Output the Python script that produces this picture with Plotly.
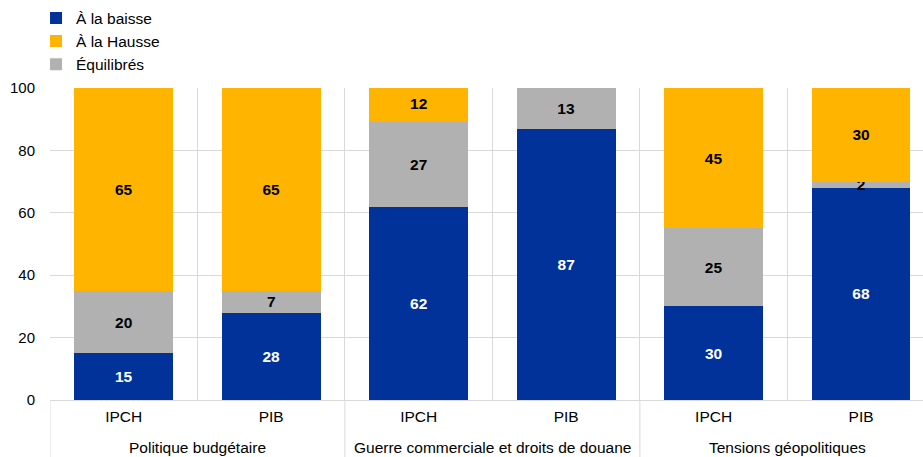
import plotly.graph_objects as go

groups = ["Politique budgétaire", "Guerre commerciale et droits de douane", "Tensions géopolitiques"]
indicators = ["IPCH", "PIB"]

baisse = [15, 28, 62, 87, 30, 68]
equilibres = [20, 7, 27, 13, 25, 2]
hausse = [65, 65, 12, 0, 45, 30]

# category keys: one per (group, indicator) pair
keys = [f"{g} – {i}" for g in groups for i in indicators]
key_labels = [i for g in groups for i in indicators]

FONT = "Liberation Sans, Arial, sans-serif"
GRID = "#D9D9D9"

series = [
    ("À la baisse", baisse, "#003299", "white", 1),
    ("Équilibrés", equilibres, "#B1B1B1", "black", 3),
    ("À la Hausse", hausse, "#FFB400", "black", 2),
]

fig = go.Figure()
for name, vals, color, tcolor, rank in series:
    fig.add_trace(go.Bar(
        x=keys, y=vals, name=name,
        marker=dict(color=color, line=dict(width=0)),
        text=[str(v) if v else "" for v in vals],
        textposition="inside", insidetextanchor="middle",
        constraintext="none", textangle=0,
        textfont=dict(color=tcolor, size=15.5, family=FONT, weight="bold"),
        legendrank=rank, width=0.67,
    ))

n_ind = len(indicators)
# group labels centred under each group
for gi, g in enumerate(groups):
    center = gi * n_ind + (n_ind - 1) / 2
    fig.add_annotation(x=center, xref="x", y=-0.152, yref="paper",
                       text=g, showarrow=False, yanchor="middle",
                       font=dict(size=15.5, family=FONT, color="black"))
# dividers between groups extending into the label area
for gi in range(len(groups)):
    xb = gi * n_ind - 0.5
    fig.add_shape(type="line", xref="x", yref="paper", x0=xb, x1=xb,
                  y0=-0.19, y1=0, line=dict(color=GRID, width=1))

fig.update_layout(
    barmode="stack",
    width=923, height=457,
    margin=dict(l=50, r=0, t=88, b=57, autoexpand=False),
    plot_bgcolor="white", paper_bgcolor="white",
    font=dict(family=FONT, size=15.5, color="black"),
    legend=dict(x=-0.016, xanchor="left", yref="container", y=0.997, yanchor="top",
                font=dict(size=15.5), traceorder="normal", itemwidth=30),
    showlegend=True,
)
fig.update_xaxes(
    type="category", tickson="boundaries",
    tickvals=keys, ticktext=key_labels,
    range=[-0.5, 5.42],
    showgrid=True, gridcolor=GRID, gridwidth=1,
    showline=True, linecolor=GRID, linewidth=1,
    ticks="", tickfont=dict(size=15.5), ticklabelstandoff=2,
)
fig.update_yaxes(
    range=[0, 100], dtick=20, tick0=0,
    showgrid=True, gridcolor=GRID, gridwidth=1,
    zeroline=False, showline=False, ticks="",
    tickfont=dict(size=15), ticklabelstandoff=14,
)

fig.write_html("out.html", config={"displayModeBar": False},
               post_script="document.body.style.margin='0';")
